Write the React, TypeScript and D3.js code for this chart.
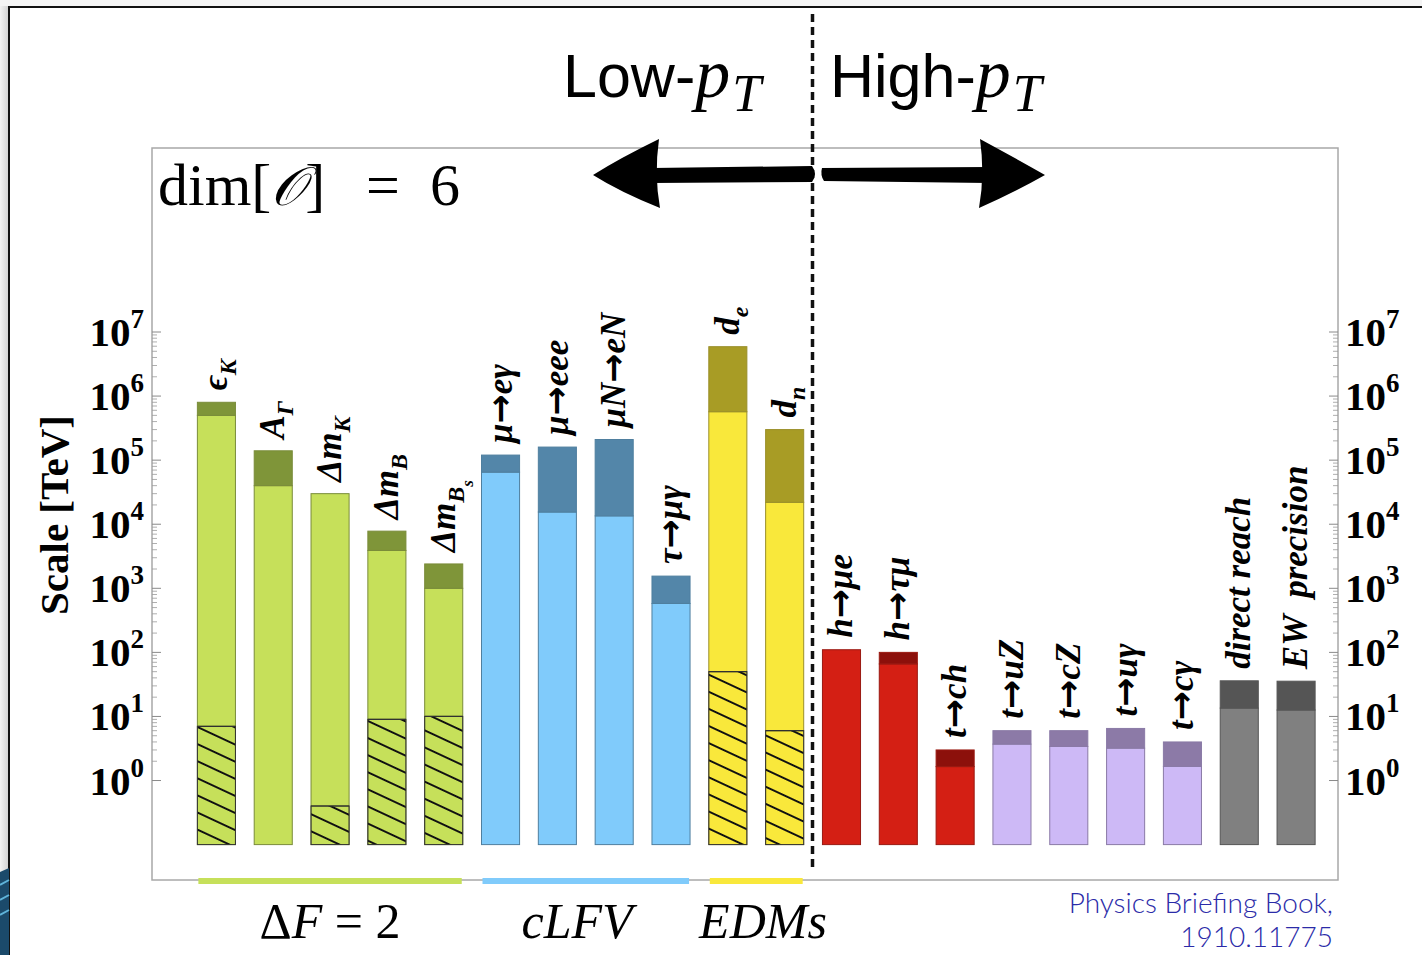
import React from 'react';
import * as d3 from 'd3';

// bars, left to right
const categories = ['eK', 'AG', 'dmK', 'dmB', 'dmBs', 'mueg', 'mueee', 'muNeN', 'taumug', 'de', 'dn',
  'hmue', 'htaumu', 'tch', 'tuZ', 'tcZ', 'tug', 'tcg', 'direct', 'EW'];
const groups = ['flav', 'flav', 'flav', 'flav', 'flav', 'clfv', 'clfv', 'clfv', 'clfv', 'edm', 'edm',
  'red', 'red', 'red', 'top', 'top', 'top', 'top', 'ew', 'ew'];
// full reach (dark cap top), current/lower reach (light part top), hatched part top
const topValues = [8e5, 1.4e5, 3e4, 7.8e3, 2.4e3, 1.2e5, 1.6e5, 2.1e5, 1.55e3, 5.9e6, 3e5,
  110, 100, 3.0, 6.0, 6.0, 6.5, 4.0, 36, 35.5];
const lightValues = [5e5, 4e4, 3e4, 3.9e3, 1e3, 6.5e4, 1.55e4, 1.35e4, 580, 5.7e5, 2.2e4,
  110, 66, 1.65, 3.7, 3.4, 3.2, 1.66, 13.5, 12.6];
const hatchValues = [7, null, 0.4, 9, 10, null, null, null, null, 50, 6,
  null, null, null, null, null, null, null, null, null];

// label pieces: [text, level] level 0 normal, 1 subscript, 2 sub-subscript
const labels: [string, number][][] = [
  [['ϵ', 0], ['K', 1]],
  [['A', 0], ['Γ', 1]],
  [['Δm', 0], ['K', 1]],
  [['Δm', 0], ['B', 1]],
  [['Δm', 0], ['B', 1], ['s', 2]],
  [['μ→eγ', 0]],
  [['μ→eee', 0]],
  [['μN→eN', 0]],
  [['τ→μγ', 0]],
  [['d', 0], ['e', 1]],
  [['d', 0], ['n', 1]],
  [['h→μe', 0]],
  [['h→τμ', 0]],
  [['t→ch', 0]],
  [['t→uZ', 0]],
  [['t→cZ', 0]],
  [['t→uγ', 0]],
  [['t→cγ', 0]],
  [['direct reach', 0]],
  [['EW  precision', 0]],
];

const groupColors: Record<string, { light: string; dark: string; edge: string }> = {
  flav: { light: '#c6e05a', dark: '#7f9539', edge: '#7a8c3a' },
  clfv: { light: '#80cbfb', dark: '#5386a9', edge: '#4f7f9f' },
  edm: { light: '#f9e83b', dark: '#a89c25', edge: '#9a8f2a' },
  red: { light: '#d41f14', dark: '#8c100b', edge: '#9a1a12' },
  top: { light: '#cdb9f6', dark: '#8c7aa7', edge: '#8a7aa6' },
  ew: { light: '#808080', dark: '#555555', edge: '#555555' },
};

const underlines = [
  { name: 'flav', from: 'eK', to: 'dmBs' },
  { name: 'clfv', from: 'mueg', to: 'taumug' },
  { name: 'edm', from: 'de', to: 'dn' },
];

const exponents = [0, 1, 2, 3, 4, 5, 6, 7];

const serif = '"Liberation Serif", "DejaVu Serif", serif';
const sans = '"Liberation Sans", Arial, sans-serif';

const frame = { left: 152, top: 148, right: 1338, bottom: 880 };

export default function App() {
  const x = d3.scaleBand<string>().domain(categories).range([188, 1324.5])
    .paddingInner(0.33).paddingOuter(0.165);
  const y = d3.scaleLog().domain([0.1, 1e7]).range([844.6, 332]);
  const bw = x.bandwidth();

  const majorTicks = exponents.map(e => Math.pow(10, e));
  const minorTicks: number[] = [];
  exponents.slice(0, -1).forEach(e => {
    for (let k = 2; k <= 9; k++) minorTicks.push(k * Math.pow(10, e));
  });

  const tickLabel = (v: number, xPos: number, anchor: 'start' | 'end', key: string) => (
    <text key={key} x={xPos} y={y(v) + 14} textAnchor={anchor} fontFamily={serif}
      fontWeight="bold" fontSize={41}>
      10<tspan fontSize={27} dy={-18}>{Math.round(Math.log10(v))}</tspan>
    </text>
  );

  return (
    <svg width={1422} height={955} style={{ position: 'absolute', left: 0, top: 0 }}>
      <defs>
        <pattern id="hatch" patternUnits="userSpaceOnUse" width={40} height={15.5}
          patternTransform="rotate(25)">
          <line x1={0} y1={2} x2={40} y2={2} stroke="#111" strokeWidth={2} />
        </pattern>
        <linearGradient id="shadow" x1="0" x2="1" y1="0" y2="0">
          <stop offset="0" stopColor="#f2f2f2" />
          <stop offset="1" stopColor="#cfcfcf" />
        </linearGradient>
      </defs>
      <rect x={0} y={0} width={1422} height={955} fill="#ffffff" />
      {/* slide edge */}
      <rect x={0} y={0} width={9} height={955} fill="url(#shadow)" />
      <rect x={0} y={0} width={1422} height={6} fill="#f4f4f4" />
      <path d="M9,955 V7 H1422" fill="none" stroke="#111" strokeWidth={2} />
      <path d="M0,872 L9,868 L9,955 L0,955 Z" fill="#1b4a6b" />
      <path d="M0,885 L9,880 M0,900 L9,895 M0,915 L9,910" stroke="#5fb3d9" strokeWidth={2} />

      {/* plot frame */}
      <rect x={frame.left} y={frame.top} width={frame.right - frame.left} height={frame.bottom - frame.top}
        fill="none" stroke="#a8a8a8" strokeWidth={1.5} />

      {/* axis ticks */}
      {majorTicks.map(v => (
        <g key={`M${v}`} stroke="#8a8a8a" strokeWidth={1}>
          <line x1={frame.left} x2={frame.left + 9} y1={y(v)} y2={y(v)} />
          <line x1={frame.right} x2={frame.right - 9} y1={y(v)} y2={y(v)} />
        </g>
      ))}
      {minorTicks.map(v => (
        <g key={`m${v}`} stroke="#9a9a9a" strokeWidth={0.8}>
          <line x1={frame.left} x2={frame.left + 5} y1={y(v)} y2={y(v)} />
          <line x1={frame.right} x2={frame.right - 5} y1={y(v)} y2={y(v)} />
        </g>
      ))}
      {majorTicks.map(v => tickLabel(v, 144, 'end', `L${v}`))}
      {majorTicks.map(v => tickLabel(v, 1345, 'start', `R${v}`))}

      <text transform="translate(68,515) rotate(-90)" textAnchor="middle" fontFamily={serif}
        fontWeight="bold" fontSize={41}>Scale [TeV]</text>

      {/* bars */}
      {categories.map((c, i) => {
        const col = groupColors[groups[i]];
        const x0 = x(c) as number;
        const base = y(0.1);
        const h = hatchValues[i];
        return (
          <g key={c}>
            <rect x={x0} y={y(lightValues[i])} width={bw} height={base - y(lightValues[i])}
              fill={col.light} stroke={col.edge} strokeWidth={1} />
            {topValues[i] > lightValues[i] && (
              <rect x={x0} y={y(topValues[i])} width={bw} height={y(lightValues[i]) - y(topValues[i])}
                fill={col.dark} stroke={col.edge} strokeWidth={1} />
            )}
            {h !== null && (
              <g>
                <rect x={x0} y={y(h)} width={bw} height={base - y(h)} fill="url(#hatch)" />
                <line x1={x0} x2={x0 + bw} y1={y(h)} y2={y(h)} stroke="#222" strokeWidth={1.2} />
                <rect x={x0} y={y(h)} width={bw} height={base - y(h)} fill="none" stroke="#333" strokeWidth={1} />
              </g>
            )}
          </g>
        );
      })}

      {/* bar labels */}
      {categories.map((c, i) => {
        const cx = (x(c) as number) + bw / 2;
        const ty = y(topValues[i]) - 12;
        let level = 0;
        const pieces: { s: string; l: number; arrow: boolean }[] = [];
        labels[i].forEach(([s, l]) => {
          s.split(/(→)/).filter(p => p.length).forEach(p => pieces.push({ s: p, l, arrow: p === '→' }));
        });
        return (
          <text key={`t${c}`} transform={`translate(${cx + 11},${ty}) rotate(-90)`} fontFamily={serif}
            fontWeight="bold" fontStyle="italic" fontSize={35}>
            {pieces.map((p, j) => {
              const dy = (p.l - level) * 9;
              level = p.l;
              return (
                <tspan key={j} dy={dy} fontSize={p.l === 0 ? 35 : p.l === 1 ? 24 : 17}
                  fontFamily={p.arrow ? '"DejaVu Sans", sans-serif' : undefined}
                  fontStyle={p.arrow ? 'normal' : undefined}
                  style={{ whiteSpace: 'pre' }}>{p.arrow ? '→' : p.s}</tspan>
              );
            })}
          </text>
        );
      })}

      {/* group underlines */}
      {underlines.map(u => {
        const col = groupColors[u.name];
        const x1 = (x(u.from) as number) + 1;
        const x2 = (x(u.to) as number) + bw - 1;
        return <line key={u.name} x1={x1} x2={x2} y1={881} y2={881} stroke={col.light} strokeWidth={6} />;
      })}
      <text x={330} y={938} textAnchor="middle" fontFamily={serif} fontSize={50} style={{ whiteSpace: 'pre' }}>
        Δ<tspan fontStyle="italic">F</tspan> = 2
      </text>
      <text x={577} y={938} textAnchor="middle" fontFamily={serif} fontStyle="italic" fontSize={50}>cLFV</text>
      <text x={763} y={938} textAnchor="middle" fontFamily={serif} fontStyle="italic" fontSize={50}>EDMs</text>

      {/* low / high pT divider */}
      <line x1={812.5} x2={812.5} y1={14} y2={870} stroke="#111" strokeWidth={3.5} strokeDasharray="8,5" />
      <text x={563} y={97} fontFamily={sans} fontSize={61}>
        Low-<tspan fontFamily={serif} fontStyle="italic" fontSize={70}>p</tspan>
        <tspan fontFamily={serif} fontStyle="italic" fontSize={52} dy={14} dx={2}>T</tspan>
      </text>
      <text x={830} y={97} fontFamily={sans} fontSize={61}>
        High-<tspan fontFamily={serif} fontStyle="italic" fontSize={70}>p</tspan>
        <tspan fontFamily={serif} fontStyle="italic" fontSize={52} dy={14} dx={2}>T</tspan>
      </text>
      <g fill="#000">
        <path d="M593,175 Q620,158 659,139 Q654,175 660,208 Q620,192 593,175 Z" />
        <path d="M652,168 L812,166 Q818,174 812,182 L652,183 Z" />
        <path d="M1045,175 Q1015,158 980,139 Q985,175 979,208 Q1015,192 1045,175 Z" />
        <path d="M822,168 L988,167 L988,183 L824,181 Q820,175 822,168 Z" />
      </g>

      <text x={158} y={205} fontFamily={serif} fontSize={60} style={{ whiteSpace: 'pre' }}>
        dim[<tspan fontStyle="italic" fontSize={54}>𝒪</tspan>]<tspan x={366}>=</tspan><tspan x={430}>6</tspan>
      </text>

      <text x={1333} y={913} textAnchor="end" fontFamily='Lato, "Open Sans", sans-serif' fontWeight={300}
        fontSize={28} fill="#2b2ba8">Physics Briefing Book,</text>
      <text x={1333} y={947} textAnchor="end" fontFamily='Lato, "Open Sans", sans-serif' fontWeight={300}
        fontSize={28} fill="#2b2ba8">1910.11775</text>
    </svg>
  );
}
